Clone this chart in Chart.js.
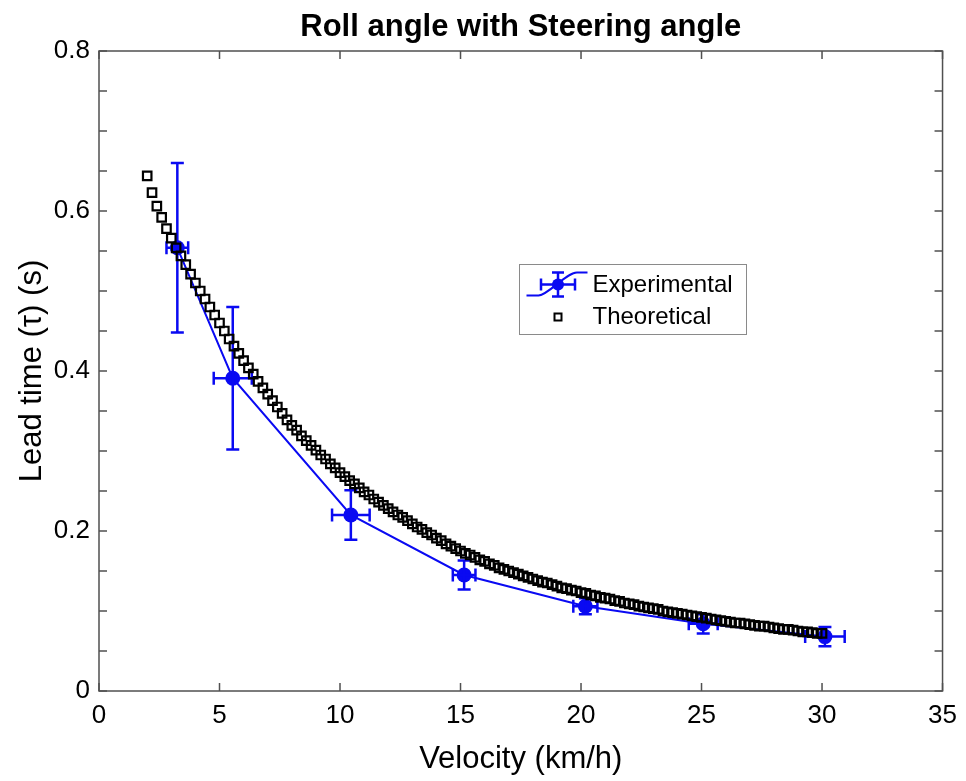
<!DOCTYPE html>
<html>
<head>
<meta charset="utf-8">
<script src="https://cdn.jsdelivr.net/npm/chart.js@4.4.1/dist/chart.umd.min.js"></script>
<style>
  html, body { margin: 0; padding: 0; background: #ffffff; }
  canvas { display: block; }
</style>
</head>
<body>
<canvas id="chart" width="966" height="781"></canvas>
<script>
// Measured lead time vs velocity, with error in both directions
const expVelocity = [3.25, 5.55, 10.45, 15.15, 20.18, 25.07, 30.12];
const expLeadTime = [0.554, 0.391, 0.220, 0.145, 0.106, 0.084, 0.068];
const expVelocityErr = [0.45, 0.79, 0.78, 0.47, 0.5, 0.6, 0.82];
const expLeadTimeErr = [0.106, 0.089, 0.031, 0.018, 0.010, 0.012, 0.012];

// Model prediction
const thVelocity = [
  2.0, 2.2, 2.4, 2.6, 2.8, 3.0, 3.2, 3.4, 3.6, 3.8,
  4.0, 4.2, 4.4, 4.6, 4.8, 5.0, 5.2, 5.4, 5.6, 5.8,
  6.0, 6.2, 6.4, 6.6, 6.8, 7.0, 7.2, 7.4, 7.6, 7.8,
  8.0, 8.2, 8.4, 8.6, 8.8, 9.0, 9.2, 9.4, 9.6, 9.8,
  10.0, 10.2, 10.4, 10.6, 10.8, 11.0, 11.2, 11.4, 11.6, 11.8,
  12.0, 12.2, 12.4, 12.6, 12.8, 13.0, 13.2, 13.4, 13.6, 13.8,
  14.0, 14.2, 14.4, 14.6, 14.8, 15.0, 15.2, 15.4, 15.6, 15.8,
  16.0, 16.2, 16.4, 16.6, 16.8, 17.0, 17.2, 17.4, 17.6, 17.8,
  18.0, 18.2, 18.4, 18.6, 18.8, 19.0, 19.2, 19.4, 19.6, 19.8,
  20.0, 20.2, 20.4, 20.6, 20.8, 21.0, 21.2, 21.4, 21.6, 21.8,
  22.0, 22.2, 22.4, 22.6, 22.8, 23.0, 23.2, 23.4, 23.6, 23.8,
  24.0, 24.2, 24.4, 24.6, 24.8, 25.0, 25.2, 25.4, 25.6, 25.8,
  26.0, 26.2, 26.4, 26.6, 26.8, 27.0, 27.2, 27.4, 27.6, 27.8,
  28.0, 28.2, 28.4, 28.6, 28.8, 29.0, 29.2, 29.4, 29.6, 29.8,
  30.0
];
const thLeadTime = [
  0.644, 0.623, 0.606, 0.592, 0.578, 0.566, 0.554, 0.544, 0.533, 0.521,
  0.510, 0.500, 0.490, 0.480, 0.470, 0.460, 0.450, 0.440, 0.431, 0.422,
  0.413, 0.404, 0.396, 0.387, 0.379, 0.371, 0.363, 0.355, 0.347, 0.339,
  0.332, 0.326, 0.319, 0.313, 0.307, 0.301, 0.295, 0.290, 0.284, 0.279,
  0.273, 0.268, 0.263, 0.259, 0.254, 0.249, 0.245, 0.240, 0.236, 0.232,
  0.228, 0.224, 0.220, 0.217, 0.213, 0.209, 0.205, 0.202, 0.198, 0.195,
  0.191, 0.188, 0.184, 0.181, 0.178, 0.175, 0.172, 0.170, 0.167, 0.164,
  0.162, 0.159, 0.157, 0.154, 0.152, 0.150, 0.148, 0.146, 0.144, 0.142,
  0.140, 0.138, 0.136, 0.135, 0.133, 0.131, 0.129, 0.128, 0.126, 0.125,
  0.123, 0.122, 0.120, 0.119, 0.117, 0.116, 0.115, 0.113, 0.112, 0.110,
  0.109, 0.108, 0.106, 0.105, 0.104, 0.103, 0.102, 0.100, 0.099, 0.098,
  0.097, 0.096, 0.095, 0.094, 0.093, 0.092, 0.091, 0.090, 0.089, 0.088,
  0.087, 0.086, 0.085, 0.085, 0.084, 0.083, 0.082, 0.081, 0.081, 0.080,
  0.079, 0.078, 0.077, 0.077, 0.076, 0.075, 0.074, 0.074, 0.073, 0.072,
  0.072
];

const xTickStep = 5;
const yTickStep = 0.05;
const yLabelStep = 0.2;

const BLUE = '#0a0af2';
const FRAME = '#505050';
const FONT = '"Liberation Sans", Arial, Helvetica, sans-serif';

// Box around the plot with inward ticks on all four sides
const framePlugin = {
  id: 'frame',
  afterDraw(chart) {
    const { ctx, chartArea: a, scales } = chart;
    const len = 8;
    ctx.save();
    ctx.strokeStyle = FRAME;
    ctx.lineWidth = 1.5;
    ctx.beginPath();
    scales.x.ticks.forEach(t => {
      const px = scales.x.getPixelForValue(t.value);
      ctx.moveTo(px, a.bottom); ctx.lineTo(px, a.bottom - len);
      ctx.moveTo(px, a.top); ctx.lineTo(px, a.top + len);
    });
    scales.y.ticks.forEach(t => {
      const py = scales.y.getPixelForValue(t.value);
      ctx.moveTo(a.left, py); ctx.lineTo(a.left + len, py);
      ctx.moveTo(a.right, py); ctx.lineTo(a.right - len, py);
    });
    ctx.stroke();
    ctx.strokeRect(a.left, a.top, a.right - a.left, a.bottom - a.top);
    ctx.restore();
  }
};

function drawErrorCross(ctx, cx, cy, x0, x1, y0, y1, cap) {
  ctx.beginPath();
  ctx.moveTo(cx, y0); ctx.lineTo(cx, y1);
  ctx.moveTo(cx - cap, y0); ctx.lineTo(cx + cap, y0);
  ctx.moveTo(cx - cap, y1); ctx.lineTo(cx + cap, y1);
  ctx.moveTo(x0, cy); ctx.lineTo(x1, cy);
  ctx.moveTo(x0, cy - cap); ctx.lineTo(x0, cy + cap);
  ctx.moveTo(x1, cy - cap); ctx.lineTo(x1, cy + cap);
  ctx.stroke();
}

// Error bars for the measured series, drawn right after that dataset
const errorBarPlugin = {
  id: 'errorBars',
  afterDatasetDraw(chart, args) {
    const ds = chart.data.datasets[args.index];
    if (!ds.errX) return;
    const { ctx, scales: { x, y } } = chart;
    ctx.save();
    ctx.strokeStyle = ds.borderColor;
    ctx.lineWidth = 2.5;
    ds.data.forEach((p, i) => {
      const cx = x.getPixelForValue(p.x);
      const cy = y.getPixelForValue(p.y);
      drawErrorCross(ctx, cx, cy,
        x.getPixelForValue(p.x - ds.errX[i]), x.getPixelForValue(p.x + ds.errX[i]),
        y.getPixelForValue(p.y + ds.errY[i]), y.getPixelForValue(p.y - ds.errY[i]), 6.5);
    });
    ctx.restore();
  }
};

// Legend box inside the plot
const legendBoxPlugin = {
  id: 'legendBox',
  afterDraw(chart) {
    const { ctx, chartArea: a } = chart;
    const [thDs, expDs] = chart.data.datasets;
    const bx = a.left + 420.5, by = a.top + 213.5, bw = 227, bh = 70;
    ctx.save();
    ctx.fillStyle = '#ffffff';
    ctx.fillRect(bx, by, bw, bh);
    ctx.strokeStyle = '#8a8a8a';
    ctx.lineWidth = 1;
    ctx.strokeRect(bx, by, bw, bh);

    // measured series symbol: curved line with marker and error cross
    const mx = bx + 38.5, my = by + 20;
    ctx.strokeStyle = expDs.borderColor;
    ctx.lineWidth = 2;
    ctx.beginPath();
    ctx.moveTo(bx + 7, my + 11);
    ctx.lineTo(bx + 19, my + 11);
    ctx.bezierCurveTo(mx - 10, my + 11, mx + 8, my - 12, mx + 19, my - 12);
    ctx.lineTo(bx + 68, my - 12);
    ctx.stroke();
    ctx.lineWidth = 2.5;
    drawErrorCross(ctx, mx, my, mx - 17, mx + 17, my - 12, my + 12, 6);
    ctx.fillStyle = expDs.pointBackgroundColor;
    ctx.beginPath();
    ctx.arc(mx, my, 6, 0, Math.PI * 2);
    ctx.fill();

    // model series symbol
    ctx.strokeStyle = thDs.borderColor;
    ctx.lineWidth = 2;
    ctx.strokeRect(mx - 3.5, by + 49, 7, 7);

    ctx.fillStyle = '#000000';
    ctx.font = '24px ' + FONT;
    ctx.textBaseline = 'middle';
    ctx.textAlign = 'left';
    ctx.fillText(expDs.label, bx + 73, by + 21);
    ctx.fillText(thDs.label, bx + 73, by + 53);
    ctx.restore();
  }
};

const ctx = document.getElementById('chart').getContext('2d');
new Chart(ctx, {
  type: 'scatter',
  data: {
    datasets: [
      {
        label: 'Theoretical',
        data: thVelocity.map((v, i) => ({ x: v, y: thLeadTime[i] })),
        showLine: false,
        pointStyle: 'rect',
        pointRadius: 6,
        pointBorderWidth: 2.2,
        borderColor: '#000000',
        backgroundColor: 'rgba(0,0,0,0)',
        pointBackgroundColor: 'rgba(0,0,0,0)',
        order: 1
      },
      {
        label: 'Experimental',
        data: expVelocity.map((v, i) => ({ x: v, y: expLeadTime[i] })),
        errX: expVelocityErr,
        errY: expLeadTimeErr,
        showLine: true,
        borderColor: BLUE,
        borderWidth: 2,
        backgroundColor: BLUE,
        pointRadius: 7.5,
        pointBorderWidth: 0,
        pointBackgroundColor: BLUE,
        pointBorderColor: BLUE,
        tension: 0,
        order: 2
      }
    ]
  },
  options: {
    responsive: false,
    animation: false,
    devicePixelRatio: 1,
    layout: { padding: { left: 0, right: 20, top: 0, bottom: 0 } },
    plugins: {
      legend: { display: false },
      tooltip: { enabled: false },
      title: {
        display: true,
        fullSize: false,
        text: 'Roll angle with Steering angle',
        color: '#000000',
        font: { family: FONT, size: 31, weight: 'bold' },
        padding: { top: 8.4, bottom: 5.4 }
      }
    },
    scales: {
      x: {
        type: 'linear',
        min: 0,
        max: 35,
        ticks: {
          stepSize: xTickStep,
          color: '#000000',
          font: { family: FONT, size: 26 },
          padding: 9,
          maxRotation: 0
        },
        grid: { display: false, drawTicks: false },
        border: { display: false },
        title: {
          display: true,
          text: 'Velocity (km/h)',
          color: '#000000',
          font: { family: FONT, size: 31 },
          padding: { top: 0, bottom: 3 }
        },
        afterFit(scale) { scale.height = 90; }
      },
      y: {
        type: 'linear',
        min: 0,
        max: 0.8,
        ticks: {
          stepSize: yTickStep,
          autoSkip: false,
          color: '#000000',
          font: { family: FONT, size: 26 },
          padding: 9,
          callback(value) {
            const r = value / yLabelStep;
            return Math.abs(r - Math.round(r)) < 1e-6 ? String(Number(value.toFixed(1))) : '';
          }
        },
        grid: { display: false, drawTicks: false },
        border: { display: false },
        title: {
          display: true,
          text: 'Lead time (τ) (s)',
          color: '#000000',
          font: { family: FONT, size: 31 },
          padding: { top: 14, bottom: 0 }
        },
        afterFit(scale) { scale.width = 99; }
      }
    }
  },
  plugins: [errorBarPlugin, framePlugin, legendBoxPlugin]
});
</script>
</body>
</html>
